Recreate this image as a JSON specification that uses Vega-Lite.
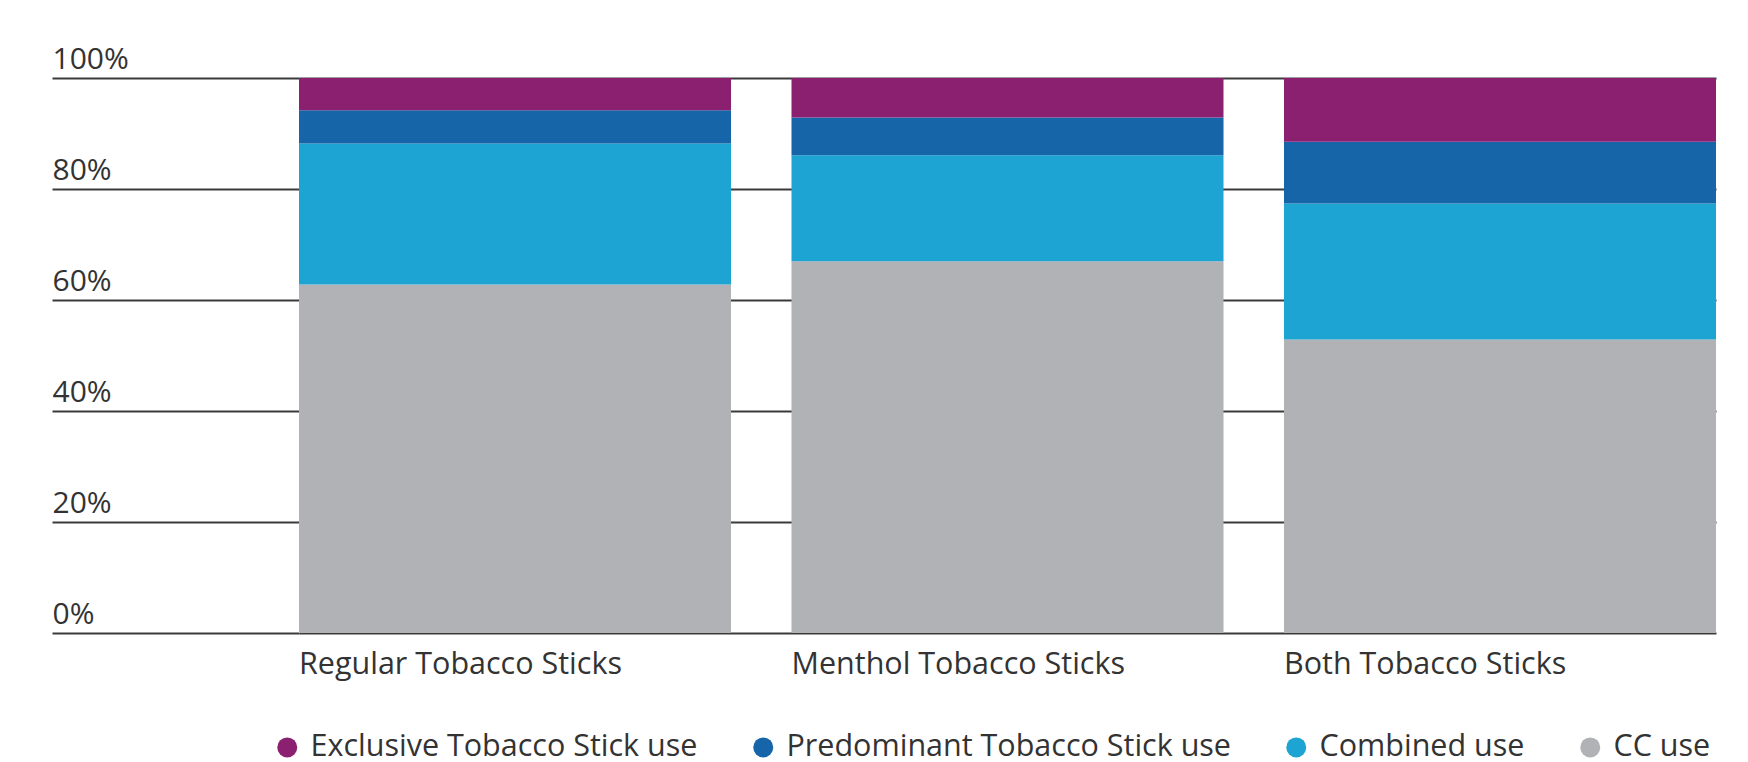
{
  "$schema": "https://vega.github.io/schema/vega-lite/v6.json",
  "width": 1417,
  "height": 555,
  "autosize": {"type": "none"},
  "padding": {"left": 299, "top": 78, "right": 32, "bottom": 129},
  "background": "white",
  "config": {
    "view": {"stroke": null},
    "font": "Open Sans",
    "text": {"font": "Open Sans"}
  },
  "data": {
    "values": [
      {"product": "Regular Tobacco Sticks", "use": "CC use", "rank": 1, "share": 62.8},
      {"product": "Regular Tobacco Sticks", "use": "Combined use", "rank": 2, "share": 25.4},
      {"product": "Regular Tobacco Sticks", "use": "Predominant Tobacco Stick use", "rank": 3, "share": 6.0},
      {"product": "Regular Tobacco Sticks", "use": "Exclusive Tobacco Stick use", "rank": 4, "share": 5.8},
      {"product": "Menthol Tobacco Sticks", "use": "CC use", "rank": 1, "share": 67.0},
      {"product": "Menthol Tobacco Sticks", "use": "Combined use", "rank": 2, "share": 19.1},
      {"product": "Menthol Tobacco Sticks", "use": "Predominant Tobacco Stick use", "rank": 3, "share": 6.8},
      {"product": "Menthol Tobacco Sticks", "use": "Exclusive Tobacco Stick use", "rank": 4, "share": 7.1},
      {"product": "Both Tobacco Sticks", "use": "CC use", "rank": 1, "share": 52.9},
      {"product": "Both Tobacco Sticks", "use": "Combined use", "rank": 2, "share": 24.5},
      {"product": "Both Tobacco Sticks", "use": "Predominant Tobacco Stick use", "rank": 3, "share": 11.1},
      {"product": "Both Tobacco Sticks", "use": "Exclusive Tobacco Stick use", "rank": 4, "share": 11.5}
    ]
  },
  "layer": [
    {
      "mark": {"type": "bar"},
      "encoding": {
        "x": {
          "field": "product",
          "type": "nominal",
          "sort": ["Regular Tobacco Sticks", "Menthol Tobacco Sticks", "Both Tobacco Sticks"],
          "scale": {"paddingInner": 0.1228, "paddingOuter": 0},
          "axis": null
        },
        "y": {
          "field": "share",
          "type": "quantitative",
          "stack": "zero",
          "scale": {"domain": [0, 100], "nice": false},
          "axis": {
            "title": null,
            "domain": false,
            "values": [0, 20, 40, 60, 80, 100],
            "labelExpr": "datum.value + '%'",
            "grid": true,
            "gridColor": "#3a3a3a",
            "gridWidth": 2,
            "gridOpacity": 1,
            "ticks": true,
            "tickSize": 247,
            "tickColor": "#3a3a3a",
            "tickWidth": 2,
            "labelPadding": 0,
            "labelAlign": "left",
            "labelBaseline": "alphabetic",
            "labelOffset": -10,
            "labelFontSize": 30,
            "labelColor": "#333333",
            "labelFont": "Open Sans"
          }
        },
        "color": {
          "field": "use",
          "type": "nominal",
          "scale": {
            "domain": ["Exclusive Tobacco Stick use", "Predominant Tobacco Stick use", "Combined use", "CC use"],
            "range": ["#8C2070", "#1565A8", "#1DA4D3", "#B1B2B6"]
          },
          "legend": {
            "title": null,
            "orient": "none",
            "legendX": -27,
            "legendY": 654,
            "direction": "horizontal",
            "columns": 4,
            "columnPadding": 50,
            "symbolType": "circle",
            "symbolSize": 400,
            "symbolStrokeWidth": 0,
            "symbolOffset": 0,
            "labelOffset": 8,
            "labelFontSize": 30.5,
            "labelColor": "#333333",
            "labelFont": "Open Sans",
            "labelLimit": 0
          }
        },
        "order": {"field": "rank", "type": "quantitative", "sort": "ascending"}
      }
    },
    {
      "transform": [{"filter": "datum.rank == 1"}],
      "mark": {
        "type": "text",
        "align": "left",
        "baseline": "top",
        "yOffset": 17,
        "fontSize": 30.5,
        "font": "Open Sans",
        "color": "#333333"
      },
      "encoding": {
        "x": {
          "field": "product",
          "type": "nominal",
          "sort": ["Regular Tobacco Sticks", "Menthol Tobacco Sticks", "Both Tobacco Sticks"],
          "bandPosition": 0
        },
        "y": {"datum": 0, "type": "quantitative"},
        "text": {"field": "product"}
      }
    }
  ]
}
